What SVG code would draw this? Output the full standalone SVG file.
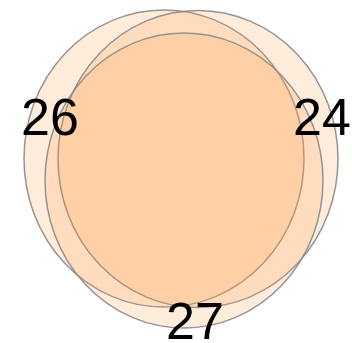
<svg xmlns="http://www.w3.org/2000/svg" width="352" height="343" viewBox="0 0 352 343">
<style>
.c{fill:#FF9A40;fill-opacity:0.19;stroke:#8a8a8a;stroke-width:1.5;stroke-opacity:0.9}
.t{font-family:"Liberation Sans",Arial,sans-serif;font-size:52px;fill:#000}
</style>
<rect width="352" height="343" fill="#fff"/>
<g id="setA"><ellipse class="c" cx="164" cy="158.5" rx="140" ry="148.5"/></g>
<g id="setB"><ellipse class="c" cx="198" cy="159" rx="140" ry="148.5"/></g>
<g id="setC"><ellipse class="c" cx="184" cy="180.5" rx="139" ry="147.5"/></g>
<g id="labels">
<text class="t" x="21" y="135">26</text>
<text class="t" x="293" y="135">24</text>
<text class="t" x="166" y="339">27</text>
</g>
</svg>
